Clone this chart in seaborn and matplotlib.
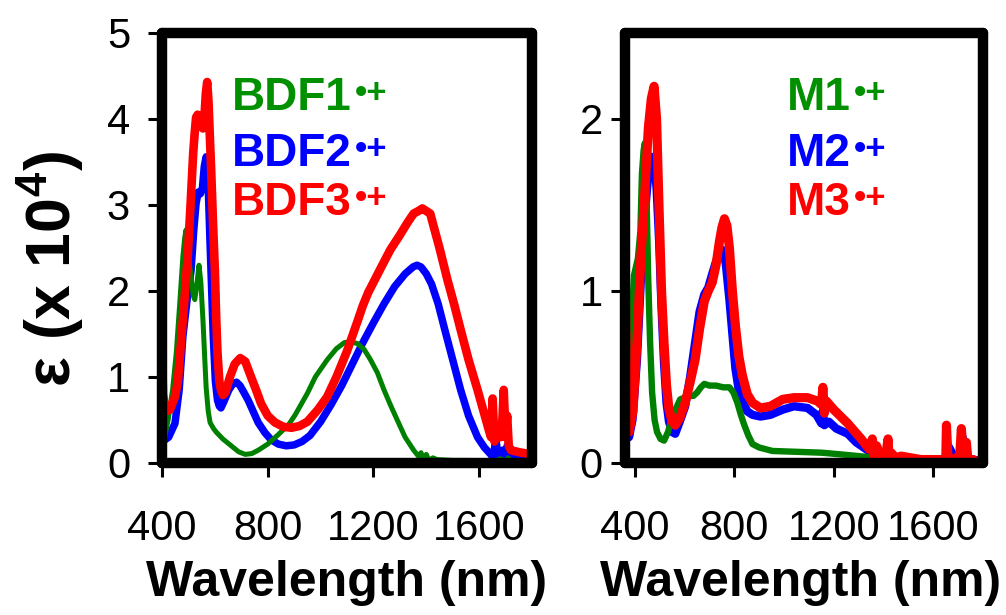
import matplotlib
matplotlib.use("Agg")
import matplotlib.pyplot as plt
import numpy as np
import pandas as pd
import seaborn as sns

# ---------------- data ----------------
x_ticks = [400, 800, 1200, 1600]
x_tick_labels = ["400", "800", "1200", "1600"]
left_y_ticks = [0, 1, 2, 3, 4, 5]
right_y_ticks = [0, 1, 2]

bdf_names = ["BDF1", "BDF2", "BDF3"]
m_names = ["M1", "M2", "M3"]

bdf1_wl = [400, 410, 423, 440, 454, 467, 479, 486, 491, 497, 510, 518, 524, 531, 540, 547, 555,
           562, 567, 575, 582, 595, 605, 630, 662, 690, 715, 740, 765, 800, 840, 880, 904, 950,
           980, 1025, 1060, 1090, 1110, 1139, 1165, 1189, 1215, 1240, 1265, 1290, 1320, 1352,
           1370, 1380, 1390, 1400, 1410, 1425, 1440, 1500, 1560, 1620, 1660, 1680, 1700, 1710, 1720]
bdf1_eps = [0.19, 0.3, 0.5, 0.85, 1.28, 1.85, 2.4, 2.62, 2.71, 2.5, 2.16, 1.95, 1.9, 2.05, 2.3,
            2.1, 1.66, 1.2, 0.88, 0.6, 0.47, 0.4, 0.36, 0.28, 0.2, 0.13, 0.1, 0.11, 0.15, 0.22,
            0.33, 0.45, 0.56, 0.81, 1.0, 1.2, 1.33, 1.4, 1.41, 1.39, 1.32, 1.2, 1.05, 0.85, 0.67,
            0.5, 0.3, 0.15, 0.08, 0.12, 0.04, 0.1, 0.03, 0.06, 0.04, 0.03, 0.03, 0.02, 0.02, 0.05,
            0.02, 0.06, 0.02]

bdf2_wl = [400, 405, 411, 425, 449, 465, 479, 495, 510, 520, 529, 537, 545, 553, 560, 567, 574,
           581, 588, 594, 602, 610, 617, 623, 635, 653, 668, 682, 695, 710, 726, 745, 764, 790,
           813, 840, 870, 900, 930, 960, 1000, 1040, 1080, 1120, 1160, 1200, 1240, 1280, 1320,
           1350, 1365, 1380, 1400, 1420, 1445, 1470, 1500, 1530, 1560, 1594, 1620, 1644, 1655,
           1662, 1675, 1690, 1700, 1706, 1712, 1730, 1760, 1800]
bdf2_eps = [0.51, 0.35, 0.27, 0.3, 0.46, 0.85, 1.47, 1.9, 2.24, 2.7, 3.02, 3.15, 3.13, 3.2, 3.45,
            3.56, 3.3, 2.63, 2.0, 1.47, 0.95, 0.73, 0.66, 0.64, 0.72, 0.85, 0.92, 0.94, 0.9,
            0.82, 0.73, 0.6, 0.47, 0.35, 0.27, 0.22, 0.2, 0.21, 0.25, 0.32, 0.48, 0.68, 0.9,
            1.15, 1.4, 1.63, 1.85, 2.05, 2.2, 2.28, 2.3, 2.28, 2.2, 2.08, 1.85, 1.55, 1.2, 0.85,
            0.55, 0.3, 0.18, 0.1, 0.05, 0.3, 0.02, 0.15, 0.03, 0.2, 0.08, 0.07, 0.06, 0.05]

bdf3_wl = [400, 404, 413, 430, 449, 460, 472, 485, 498, 508, 518, 524, 529, 535, 541, 548, 555,
           561, 566, 571, 576, 581, 586, 593, 600, 605, 610, 617, 623, 631, 640, 657, 675, 696,
           715, 737, 756, 775, 800, 828, 860, 890, 920, 950, 990, 1025, 1060, 1100, 1140, 1160,
           1180, 1200, 1225, 1264, 1300, 1330, 1352, 1370, 1385, 1400, 1415, 1428, 1450, 1480,
           1505, 1530, 1560, 1594, 1615, 1637, 1645, 1651, 1658, 1668, 1680, 1688, 1693, 1700,
           1706, 1712, 1720, 1731, 1760, 1800]
bdf3_eps = [1.35, 0.8, 0.6, 0.62, 0.77, 0.95, 1.4, 1.9, 2.44, 3.0, 3.6, 3.85, 4.02, 4.05, 4.02,
            3.95, 3.89, 4.05, 4.3, 4.43, 4.2, 3.8, 3.41, 2.8, 2.24, 1.7, 1.28, 0.95, 0.85, 0.79,
            0.82, 1.0, 1.15, 1.22, 1.18, 1.0, 0.85, 0.69, 0.55, 0.47, 0.42, 0.41, 0.43, 0.48,
            0.62, 0.77, 1.0, 1.3, 1.65, 1.83, 1.98, 2.1, 2.25, 2.48, 2.65, 2.8, 2.9, 2.93, 2.96,
            2.93, 2.9, 2.75, 2.5, 2.13, 1.85, 1.55, 1.2, 0.85, 0.62, 0.38, 0.3, 0.75, 0.25,
            0.35, 0.3, 0.5, 0.85, 0.3, 0.55, 0.2, 0.15, 0.14, 0.12, 0.1]

m1_wl = [360, 376, 388, 396, 412, 422, 428, 435, 440, 446, 453, 461, 469, 479, 489, 503, 517,
         533, 550, 566, 582, 600, 618, 635, 650, 665, 679, 700, 726, 755, 780, 796, 812, 826,
         840, 856, 873, 900, 953, 1050, 1150, 1228, 1300, 1363, 1450, 1550, 1632, 1700, 1800]
m1_eps = [0.3, 0.51, 0.85, 1.09, 1.19, 1.35, 1.68, 1.82, 1.86, 1.6, 1.09, 0.7, 0.41, 0.25, 0.18,
          0.14, 0.13, 0.18, 0.27, 0.32, 0.37, 0.38, 0.39, 0.39, 0.41, 0.44, 0.46, 0.45, 0.45,
          0.44, 0.44, 0.41, 0.35, 0.28, 0.22, 0.16, 0.11, 0.09, 0.07, 0.065, 0.06, 0.05, 0.04,
          0.03, 0.025, 0.02, 0.02, 0.015, 0.01]

m2_wl = [360, 368, 376, 390, 408, 425, 440, 455, 468, 477, 487, 497, 507, 517, 527, 537, 550,
         562, 580, 602, 622, 642, 660, 679, 695, 711, 726, 740, 750, 758, 766, 780, 792, 804,
         818, 832, 852, 873, 905, 945, 994, 1040, 1094, 1130, 1150, 1155, 1162, 1180, 1210,
         1256, 1290, 1310, 1340, 1365, 1372, 1400, 1418, 1430, 1480, 1550, 1610, 1650, 1660,
         1690, 1710, 1718, 1735, 1760, 1800]
m2_eps = [0.9, 0.4, 0.15, 0.25, 0.6, 1.1, 1.45, 1.7, 1.78, 1.75, 1.6, 1.3, 0.9, 0.58, 0.35,
          0.24, 0.18, 0.17, 0.24, 0.33, 0.5, 0.7, 0.88, 0.98, 1.02, 1.1, 1.17, 1.22, 1.24, 1.22,
          1.15, 0.95, 0.75, 0.55, 0.42, 0.36, 0.3, 0.28, 0.27, 0.28, 0.31, 0.33, 0.32, 0.28,
          0.23, 0.3, 0.22, 0.24, 0.2, 0.17, 0.12, 0.1, 0.07, 0.04, 0.08, 0.03, 0.05, 0.02, 0.02,
          0.02, 0.02, 0.02, 0.1, 0.02, 0.05, 0.15, 0.02, 0.02, 0.01]

m3_wl = [360, 366, 376, 392, 408, 424, 440, 454, 466, 477, 487, 497, 507, 517, 527, 537, 550,
         562, 580, 602, 622, 642, 660, 679, 695, 711, 726, 740, 750, 760, 770, 780, 792, 804,
         818, 832, 852, 873, 905, 945, 994, 1040, 1094, 1134, 1150, 1156, 1162, 1170, 1200,
         1256, 1310, 1342, 1355, 1363, 1372, 1390, 1410, 1418, 1423, 1430, 1450, 1471, 1550,
         1606, 1640, 1650, 1653, 1660, 1690, 1705, 1713, 1720, 1733, 1740, 1760, 1780, 1800]
m3_eps = [1.15, 0.5, 0.18, 0.3, 0.7, 1.2, 1.58, 1.95, 2.12, 2.19, 2.0, 1.48, 1.0, 0.7, 0.45,
          0.31, 0.24, 0.22, 0.26, 0.35, 0.47, 0.6, 0.78, 0.94, 1.0, 1.05, 1.15, 1.29, 1.37,
          1.42, 1.38, 1.25, 1.0, 0.8, 0.62, 0.51, 0.4, 0.35, 0.32, 0.33, 0.37, 0.38, 0.38,
          0.36, 0.34, 0.44, 0.29, 0.36, 0.31, 0.23, 0.14, 0.08, 0.14, 0.0, 0.1, 0.03, 0.05,
          0.14, -0.01, 0.06, 0.03, 0.04, 0.02, 0.02, 0.02, 0.0, 0.22, 0.0, 0.03, 0.01, 0.2,
          0.05, 0.12, 0.01, 0.02, 0.0, 0.01]

# ---------------- style ----------------
sns.set_style("ticks")
plt.rcParams["font.family"] = ["Liberation Sans", "DejaVu Sans"]
plt.rcParams["mathtext.fontset"] = "custom"
plt.rcParams["mathtext.rm"] = "Liberation Sans"
plt.rcParams["mathtext.bf"] = "Liberation Sans:bold"
for key in ("text.color", "axes.labelcolor", "xtick.color", "ytick.color",
            "xtick.labelcolor", "ytick.labelcolor"):
    plt.rcParams[key] = "black"

GREEN_LINE = "#008000"
GREEN_TEXT = "#009000"
BLUE = "#0000FF"
RED = "#FF0000"

fig = plt.figure(figsize=(10.06, 6.15), dpi=100)
W, H = 1006.0, 615.0
axL = fig.add_axes([162 / W, 1 - 463 / H, 370 / W, 430 / H])
axR = fig.add_axes([625 / W, 1 - 463 / H, 358 / W, 430 / H])


def draw(ax, series):
    for wl, eps, color, lw in series:
        df = pd.DataFrame({"wl": wl, "eps": eps})
        sns.lineplot(data=df, x="wl", y="eps", color=color, linewidth=lw,
                     estimator=None, sort=False, ax=ax,
                     solid_joinstyle="round", solid_capstyle="round")


draw(axL, [(bdf2_wl, bdf2_eps, BLUE, 5.4),
           (bdf1_wl, bdf1_eps, GREEN_LINE, 3.6),
           (bdf3_wl, bdf3_eps, RED, 6.2)])
draw(axR, [(m2_wl, m2_eps, BLUE, 6.0),
           (m1_wl, m1_eps, GREEN_LINE, 4.6),
           (m3_wl, m3_eps, RED, 6.6)])

axL.set_xlim(400, 1800)
axL.set_ylim(0, 5)
axR.set_xlim(360, 1800)
axR.set_ylim(0, 2.5)

for ax, yt, ypad, xlab_x in ((axL, left_y_ticks, 13, 0.5), (axR, right_y_ticks, 6, 0.49)):
    for s in ax.spines.values():
        s.set_visible(True)
        s.set_linewidth(7.5)
        s.set_color("black")
        s.set_capstyle("round")
    ax.set_xticks(x_ticks, x_tick_labels, fontsize=30)
    ax.set_yticks(yt, [str(v) for v in yt], fontsize=30)
    ax.tick_params(axis="both", direction="out", length=10, width=2.2, color="black",
                   bottom=True, left=True, top=False, right=False)
    ax.tick_params(axis="x", pad=23)
    ax.tick_params(axis="y", pad=ypad)
    ax.set_xlabel("Wavelength (nm)", fontsize=36, fontweight="bold")
    ax.xaxis.set_label_coords(xlab_x, -0.225)
    ax.set_ylabel("")

axL.set_ylabel(r"ε (x 10$^{\mathbf{4}}$)", fontsize=45, fontweight="bold")
axL.yaxis.label.set_verticalalignment("center")
axL.yaxis.set_label_coords(-0.30, 0.45)


def tag(ax, x, y, name, color):
    t = ax.text(x, y, name, transform=ax.transAxes, fontsize=33, fontweight="bold",
                color=color, ha="left", va="baseline")
    ax.annotate("•+", xy=(1, 0.6), xycoords=t, xytext=(2, 0), textcoords="offset points",
                fontsize=25, fontweight="bold", color=color, ha="left", va="center")


text_colors = [GREEN_TEXT, BLUE, RED]
rows = [0.821, 0.691, 0.577]
for name, c, r in zip(bdf_names, text_colors, rows):
    tag(axL, 0.19, r, name, c)
for name, c, r in zip(m_names, text_colors, rows):
    tag(axR, 0.452, r, name, c)

fig.savefig("out.png", dpi=100)
